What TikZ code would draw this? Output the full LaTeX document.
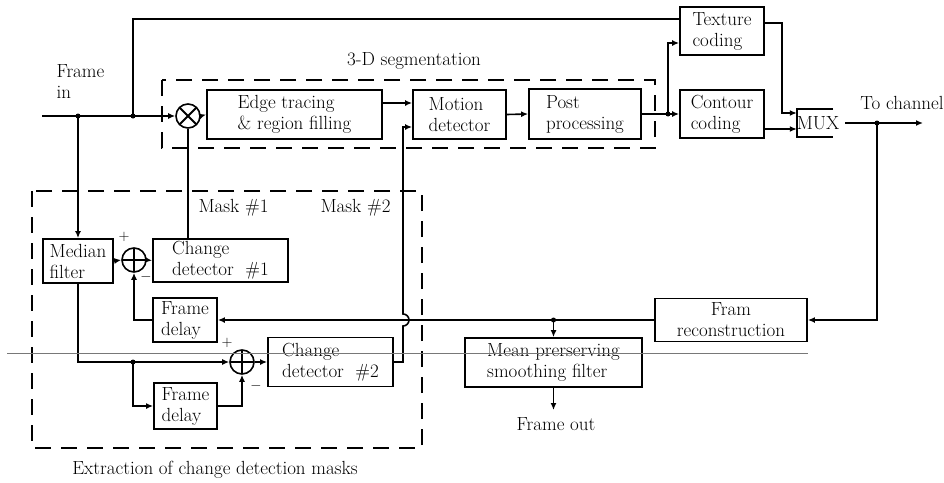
\documentclass[tikz,border=0pt]{standalone}
\usepackage{tikz}
\usetikzlibrary{arrows.meta,calc}
\definecolor{scangray}{RGB}{120,120,120}

\begin{document}
\begin{tikzpicture}[x=1pt, y=-1pt,
    font=\fontsize{19}{21}\selectfont,
    blk/.style={draw, line width=1.8pt, inner sep=0pt, align=left},
    sumnode/.style={draw, circle, line width=1.6pt, minimum size=24pt, inner sep=0pt,
      path picture={\draw[line width=2pt] (path picture bounding box.north) -- (path picture bounding box.south)
        (path picture bounding box.west) -- (path picture bounding box.east);}},
    mulnode/.style={draw, circle, line width=1.6pt, minimum size=24pt, inner sep=0pt,
      path picture={\draw[line width=2pt] (path picture bounding box.north west) -- (path picture bounding box.south east)
        (path picture bounding box.south west) -- (path picture bounding box.north east);}},
    sign/.style={font=\fontsize{14}{16}\selectfont},
    conn/.style={line width=1.6pt},
    arr/.style={conn, -{Latex[length=7pt,width=6pt]}},
    dashbox/.style={line width=1.7pt, dash pattern=on 16pt off 10pt}]
  \useasboundingbox (0,0) rectangle (944,482);

  % dashed groups
  \draw[dashbox] (162,80) rectangle (655,148);
  \draw[dashbox] (32,191) rectangle (422,448);
  \node (seglabel) at (414,61) {3-D segmentation};
  \node (extlabel) at (215,470) {Extraction of change detection masks};

  % blocks
  \node[mulnode] (mult) at (188,116) {};
  \node[blk, minimum width=175pt, minimum height=49pt] (edge) at (294.5,114.5) {Edge tracing\\\& region filling};
  \node[blk, minimum width=93pt, minimum height=49pt] (motion) at (459.5,114.5) {Motion\\detector};
  \node[blk, minimum width=112pt, minimum height=50pt] (post) at (585,114) {Post\\processing};
  \node[blk, minimum width=84pt, minimum height=48pt] (texture) at (722,31) {Texture\\coding};
  \node[blk, minimum width=84pt, minimum height=48pt] (contour) at (722,114) {Contour\\coding};
  \node[minimum width=36pt, minimum height=28pt, inner sep=0pt,
    label={[xshift=3pt]center:MUX}] (mux) at (815,123) {};
  \draw[line width=1.6pt] (mux.north east) -- (mux.north west) -- (mux.south west) -- (mux.south east);

  \node[blk, minimum width=70pt, minimum height=44pt] (median) at (78,261) {Median\\filter};
  \node[sumnode] (sum1) at (134,260) {};
  \node[blk, minimum width=135pt, minimum height=43pt] (cd1) at (220.5,260.5) {Change\\detector~~\#1};
  \node[blk, minimum width=64pt, minimum height=44pt] (fd1) at (185,320) {Frame\\delay};
  \node[sumnode] (sum2) at (242,362) {};
  \node[blk, minimum width=125pt, minimum height=49pt] (cd2) at (330.5,362) {Change\\detector~~\#2};
  \node[blk, minimum width=63pt, minimum height=46pt] (fd2) at (185.5,406) {Frame\\delay};
  \node[blk, minimum width=177pt, minimum height=49pt] (mean) at (553.5,362.5) {Mean prerserving\\smoothing filter};
  \node[blk, align=center, minimum width=152pt, minimum height=43pt] (fram) at (731,320) {Fram\\reconstruction};

  % signs and labels
  \node[sign] (p1) at (124,237) {$+$};
  \node[sign] (m1) at (146,277) {$-$};
  \node[sign] (p2) at (227,343) {$+$};
  \node[sign] (m2) at (256,386) {$-$};
  \node[anchor=west] (mask1) at (195,208) {Mask \#1};
  \node[anchor=west] (mask2) at (317,208) {Mask \#2};
  \node[anchor=west, align=left] (inlabel) at (53,82) {Frame\\in};
  \node (chlabel) at (902,103) {To channel};
  \node (outlabel) at (556,424) {Frame out};

  \coordinate (fin) at (42,116);
  \coordinate (j1) at (78,116);
  \coordinate (j2) at (133,116);
  \coordinate (j3) at (668,114);
  \coordinate (j4) at (877,123);
  \coordinate (j5) at (mean.north |- fram.west);
  \coordinate (j6) at (133,362);
  \coordinate (chout) at (923,123);
  \coordinate (fout) at (553.5,410);
  \coordinate (hop) at (403,320);
  \coordinate (mux2) at ([yshift=-6pt]mux.west);

  % top path
  \draw[arr] (fin) -- (mult.west);
  \draw[conn] (j2) |- ([yshift=12pt]texture.west);
  \draw[arr] (j1) -- (median.north);
  \draw[arr] (mult.east) -- (edge.west);
  \draw[arr] ([yshift=11.5pt]edge.east) -- ([yshift=11.5pt]motion.west);
  \draw[arr] (motion.east) -- (post.west);
  \draw[conn] (post.east) -- (j3);
  \draw[arr] (j3) -- (contour.west);
  \draw[arr] (j3) |- ([yshift=-12pt]texture.west);
  \draw[arr] ([yshift=8pt]texture.east) -| ([xshift=-15pt,yshift=10pt]mux.west) -- ([yshift=10pt]mux.west);
  \draw[arr] (contour.east |- mux2) -- (mux2);
  \draw[arr] ([xshift=12pt]mux.east) -- (chout);

  % feedback
  \draw[arr] (j4) |- (fram.east);
  \draw[arr] (fram.west) -- (fd1.east);
  \draw[arr] (j5) -- (mean.north);
  \draw[arr] (mean.south) -- (fout);

  % change detection
  \draw[arr] (median.east) -- (sum1.west);
  \draw[arr] (sum1.east) -- (cd1.west);
  \draw[arr] (fd1.west) -| (sum1.south);
  \draw[conn] (mult.south |- cd1.north) -- (mult.south);
  \draw[arr] (median.south) |- (sum2.west);
  \draw[arr] (j6) |- (fd2.west);
  \draw[arr] (fd2.east) -| (sum2.south);
  \draw[arr] (sum2.east) -- (cd2.west);
  \draw[arr] (cd2.east) -| ([yshift=-6pt]hop) arc[start angle=90, end angle=-90, radius=6]
    |- ([yshift=-12.5pt]motion.west);

  \foreach \j in {j1,j2,j3,j4,j5,j6}
    \fill (\j) circle (2.5);

  \draw[scangray, line width=0.5pt] (7,353) -- (808,353);
\end{tikzpicture}
\end{document}
